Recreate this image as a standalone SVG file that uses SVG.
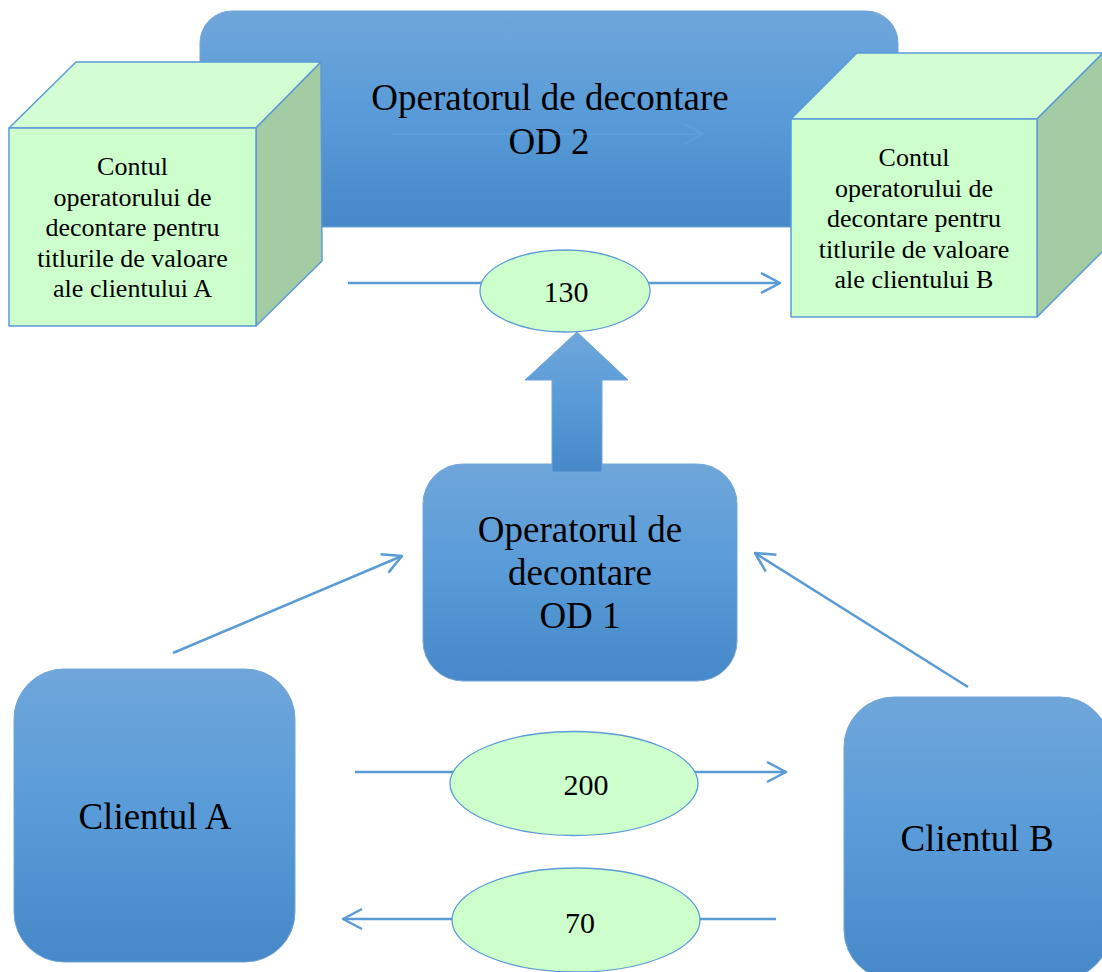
<svg xmlns="http://www.w3.org/2000/svg" width="1102" height="972" viewBox="0 0 1102 972">
<defs>
<linearGradient id="blue" x1="0" y1="0" x2="0" y2="1">
<stop offset="0" stop-color="#6fa6da"/>
<stop offset="0.5" stop-color="#589bd8"/>
<stop offset="1" stop-color="#4688c8"/>
</linearGradient>
<marker id="arr" viewBox="-22 -12 24 24" refX="0" refY="0" markerWidth="24" markerHeight="24" markerUnits="userSpaceOnUse" orient="auto">
<path d="M-19,-10 L0,0 L-19,10" fill="none" stroke="#5b9bd5" stroke-width="2.5" stroke-linejoin="round"/>
</marker>
<marker id="arrFaint" viewBox="-22 -12 24 24" refX="0" refY="0" markerWidth="24" markerHeight="24" markerUnits="userSpaceOnUse" orient="auto">
<path d="M-19,-10 L0,0 L-19,10" fill="none" stroke="#7fb2e3" stroke-width="2" stroke-linejoin="round"/>
</marker>
</defs>
<style>
.box{fill:url(#blue);stroke:#72a5da;stroke-width:1}
.front{fill:#ccffcc;stroke:#5b9bd5;stroke-width:1.5;stroke-linejoin:round}
.top{fill:#d3fdd3;stroke:#5b9bd5;stroke-width:1.5;stroke-linejoin:round}
.side{fill:#a4cca4;stroke:#5b9bd5;stroke-width:1.5;stroke-linejoin:round}
.oval{fill:#ccffcc;stroke:#5b9bd5;stroke-width:1.3}
.conn{stroke:#5b9bd5;stroke-width:2.5;fill:none;marker-end:url(#arr)}
.faint{stroke:#7fb2e3;stroke-width:2;fill:none;opacity:0.22;marker-end:url(#arrFaint)}
.big{font-family:"Liberation Serif","Times New Roman",serif;font-size:37px;text-anchor:middle;fill:#000}
.num{font-family:"Liberation Serif","Times New Roman",serif;font-size:30px;text-anchor:middle;fill:#000}
.small{font-family:"Liberation Serif","Times New Roman",serif;font-size:26px;text-anchor:middle;fill:#000}
</style>
<rect width="1102" height="972" fill="#ffffff"/>

<g id="od2">
<rect class="box" x="200" y="11" width="698" height="216" rx="32"/>
<text class="big" x="550" y="110">Operatorul de decontare</text>
<text class="big" x="549" y="154">OD 2</text>
</g>

<g id="cont-a">
<polygon class="top" points="9,128 76,62 321,62 256,128"/>
<polygon class="side" points="256,128 321,62 322,261 256,326"/>
<rect class="front" x="9" y="128" width="247" height="198"/>
<text class="small" x="132.5" y="175">Contul</text>
<text class="small" x="132.5" y="205.5">operatorului de</text>
<text class="small" x="132.5" y="236">decontare pentru</text>
<text class="small" x="132.5" y="266.5">titlurile de valoare</text>
<text class="small" x="132.5" y="297">ale clientului A</text>
</g>

<g id="cont-b">
<polygon class="top" points="791,119 857,53 1103,53 1037,119"/>
<polygon class="side" points="1037,119 1103,53 1103,251 1037,317"/>
<rect class="front" x="791" y="119" width="246" height="198"/>
<text class="small" x="914" y="166">Contul</text>
<text class="small" x="914" y="196.5">operatorului de</text>
<text class="small" x="914" y="227">decontare pentru</text>
<text class="small" x="914" y="257.5">titlurile de valoare</text>
<text class="small" x="914" y="288">ale clientului B</text>
</g>

<g id="connectors">
<path class="faint" d="M393,134 H703"/>
<path class="conn" d="M348,283 H780"/>
<path class="conn" d="M355,772 H786"/>
<path class="conn" d="M776,919 H343"/>
<path class="conn" d="M173,653 L402,556"/>
<path class="conn" d="M968,687 L755,553"/>
</g>

<g id="val-130">
<ellipse class="oval" cx="565" cy="291" rx="85" ry="41"/>
<text class="num" x="566" y="302">130</text>
</g>

<g id="val-200">
<ellipse class="oval" cx="574" cy="783.5" rx="124" ry="52"/>
<text class="num" x="586" y="795">200</text>
</g>

<g id="val-70">
<ellipse class="oval" cx="576" cy="920" rx="124" ry="52"/>
<text class="num" x="580" y="933">70</text>
</g>

<g id="od1">
<rect class="box" x="423" y="464" width="314" height="217" rx="40"/>
<text class="big" x="580" y="542">Operatorul de</text>
<text class="big" x="580" y="585">decontare</text>
<text class="big" x="580" y="628">OD 1</text>
</g>

<g id="arrow-up">
<polygon points="552,472 552,380 525,380 577,332 628,380 602,380 602,472" fill="url(#blue)" stroke="#72a5da" stroke-width="1"/>
</g>

<g id="client-a">
<rect class="box" x="14" y="669" width="281" height="293" rx="50"/>
<text class="big" x="155" y="829">Clientul A</text>
</g>

<g id="client-b">
<rect class="box" x="844" y="697" width="266" height="283" rx="50"/>
<text class="big" x="977" y="851">Clientul B</text>
</g>
</svg>
